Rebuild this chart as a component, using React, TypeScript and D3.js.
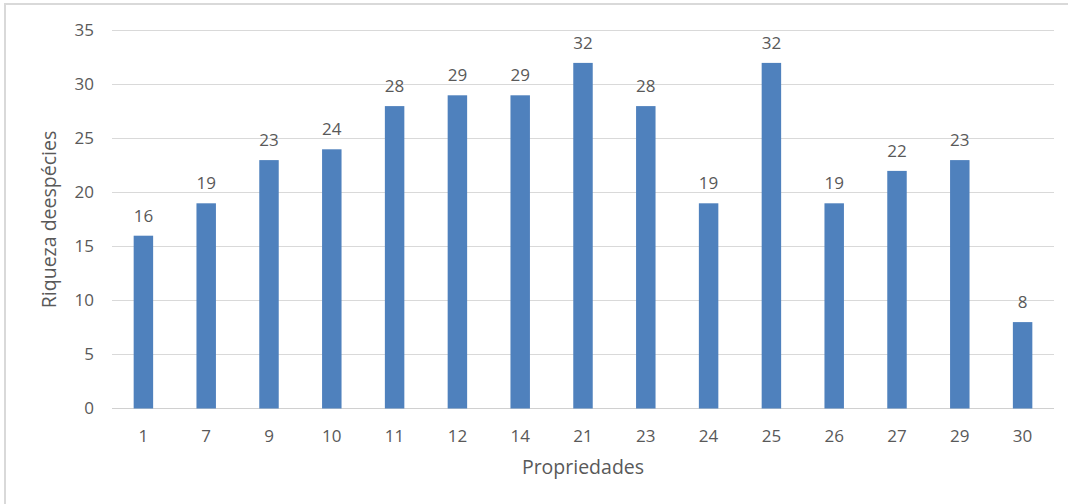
import React from "react";
import * as d3 from "d3";

const categories = ["1", "7", "9", "10", "11", "12", "14", "21", "23", "24", "25", "26", "27", "29", "30"];
const values = [16, 19, 23, 24, 28, 29, 29, 32, 28, 19, 32, 19, 22, 23, 8];
const yTicks = [0, 5, 10, 15, 20, 25, 30, 35];
const yTitle = "Riqueza deespécies";
const xTitle = "Propriedades";

const W = 1068;
const H = 504;
const m = { left: 112, right: 14, top: 30.5, bottom: 95.5 };
const font = "'Open Sans', 'Liberation Sans', sans-serif";
const textColor = "#595959";

export default function App() {
  const x = d3
    .scaleBand<string>()
    .domain(categories)
    .range([m.left, W - m.right])
    .paddingInner(0.69)
    .paddingOuter(0.345);
  const y = d3.scaleLinear().domain([0, 35]).range([H - m.bottom, m.top]);

  return (
    <svg
      width={W}
      height={H}
      style={{ position: "absolute", left: 0, top: 0, background: "#fff" }}
      fontFamily={font}
    >
      <rect x={5} y={4} width={W + 10} height={H + 10} fill="#fff" stroke="#d9d9d9" strokeWidth={2} />
      {yTicks.map((t) => (
        <g key={t}>
          <line x1={m.left} x2={W - m.right} y1={y(t)} y2={y(t)} stroke={t === 0 ? "#d0d0d0" : "#d9d9d9"} strokeWidth={1} />
          <text x={94} y={y(t)} dy="0.35em" textAnchor="end" fontSize={17} fill={textColor}>
            {t}
          </text>
        </g>
      ))}
      {categories.map((c, i) => (
        <g key={c}>
          <rect
            x={x(c)!}
            y={y(values[i])}
            width={x.bandwidth()}
            height={y(0) - y(values[i])}
            fill="#4F81BD"
          />
          <text
            x={x(c)! + x.bandwidth() / 2}
            y={y(values[i]) - 14}
            textAnchor="middle"
            fontSize={17}
            fill={textColor}
          >
            {values[i]}
          </text>
          <text
            x={x(c)! + x.bandwidth() / 2}
            y={442}
            textAnchor="middle"
            fontSize={17}
            fill={textColor}
          >
            {c}
          </text>
        </g>
      ))}
      <text x={583} y={474} textAnchor="middle" fontSize={19.5} fill={textColor}>
        {xTitle}
      </text>
      <text
        transform={`translate(56, ${(m.top + H - m.bottom) / 2}) rotate(-90)`}
        textAnchor="middle"
        fontSize={19.5}
        fill={textColor}
      >
        {yTitle}
      </text>
    </svg>
  );
}
